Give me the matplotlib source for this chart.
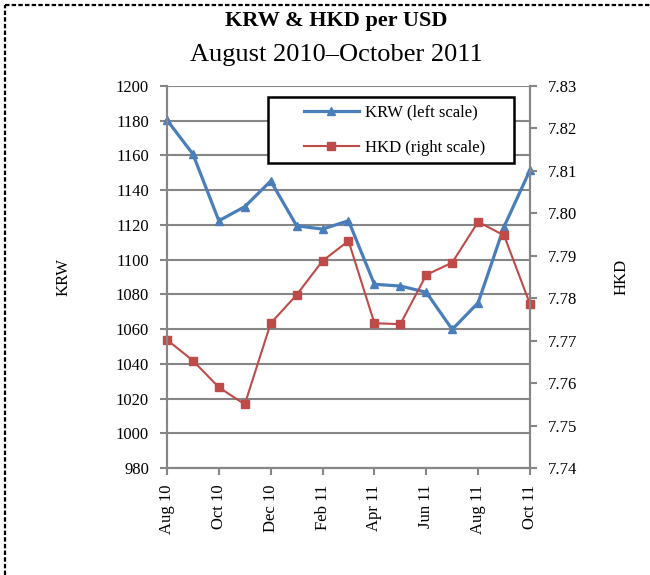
import numpy as np
import matplotlib
matplotlib.use("Agg")
import matplotlib.pyplot as plt
from matplotlib.lines import Line2D
from matplotlib.patches import Rectangle

plt.rcParams['font.family'] = ['Liberation Serif', 'DejaVu Serif']

months = ['Aug 10', 'Sep 10', 'Oct 10', 'Nov 10', 'Dec 10', 'Jan 11', 'Feb 11', 'Mar 11',
          'Apr 11', 'May 11', 'Jun 11', 'Jul 11', 'Aug 11', 'Sep 11', 'Oct 11']
krw = [1180.4, 1160.8, 1122.4, 1130.5, 1145.3, 1119.5, 1117.6, 1122.4,
       1085.8, 1084.8, 1081.2, 1059.8, 1075.2, 1119.0, 1151.6]
hkd = [7.7702, 7.7653, 7.7590, 7.7550, 7.7741, 7.7808, 7.7888, 7.7935,
       7.7741, 7.7739, 7.7855, 7.7884, 7.7980, 7.7948, 7.7786]
krw_ticks = list(range(980, 1201, 20))
hkd_ticks = [7.74, 7.75, 7.76, 7.77, 7.78, 7.79, 7.80, 7.81, 7.82, 7.83]

blue = '#4A7EBB'
red = '#BE4B48'
grey = '#868686'

fig = plt.figure(figsize=(6.5, 5.75), dpi=100)
ax = fig.add_axes([0.2569, 0.1861, 0.5585, 0.6643])
ax2 = ax.twinx()

x = np.arange(len(months))
l1, = ax.plot(x, krw, color=blue, lw=2.3, marker='^', ms=6, clip_on=False,
              label='KRW (left scale)')
l2, = ax2.plot(x, hkd, color=red, lw=1.5, marker='s', ms=5.5, clip_on=False,
               label='HKD (right scale)')

ax.set_xlim(0, len(months) - 1)
ax.set_ylim(980, 1200)
ax2.set_ylim(7.74, 7.83)
ax.set_yticks(krw_ticks)
ax.set_yticklabels([str(v) for v in krw_ticks])
ax2.set_yticks(hkd_ticks)
ax2.set_yticklabels(['%.2f' % v for v in hkd_ticks])
ax.set_xticks(x[::2])
ax.set_xticklabels(months[::2], rotation=90)

ax.yaxis.grid(True, color=grey, lw=1.5)
ax.set_axisbelow(True)
for a in (ax, ax2):
    a.spines['top'].set_visible(False)
    for s in ('left', 'right', 'bottom'):
        a.spines[s].set_color(grey)
        a.spines[s].set_linewidth(1.5)
    a.tick_params(axis='both', which='major', color=grey, width=1.5, length=5,
                  labelsize=12, pad=8)
ax.tick_params(axis='x', pad=7)

ax.set_ylabel('KRW', fontsize=12, labelpad=32)
ax2.set_ylabel('HKD', fontsize=12, labelpad=26)

# legend box drawn separately so the entries sit centred inside it
ax2.add_patch(Rectangle((0.278, 0.798), 0.678, 0.173, transform=ax2.transAxes,
                        facecolor='white', edgecolor='black', lw=1.8,
                        zorder=4.5, clip_on=False))
leg = ax2.legend(handles=[l1, l2], loc='center', numpoints=1,
                 bbox_to_anchor=(0.278 + 0.678 / 2 + 0.01, 0.798 + 0.173 / 2),
                 frameon=False, fontsize=12, handlelength=3.3,
                 handletextpad=0.4, labelspacing=1.15)

fig.text(0.518, 0.963, 'KRW & HKD per USD', ha='center', va='center',
         fontsize=16, fontweight='bold')
fig.text(0.518, 0.905, 'August 2010\u2013October 2011', ha='center', va='center',
         fontsize=19)

# dashed page border on the left and top
fig.add_artist(Line2D([5 / 650, 5 / 650], [0, 1 - 5 / 575], transform=fig.transFigure,
                      color='black', lw=1.6, linestyle=(0, (2, 1))))
fig.add_artist(Line2D([5 / 650, 1], [1 - 5 / 575, 1 - 5 / 575], transform=fig.transFigure,
                      color='black', lw=1.6, linestyle=(0, (2, 1))))

fig.savefig('out.png', dpi=100)
